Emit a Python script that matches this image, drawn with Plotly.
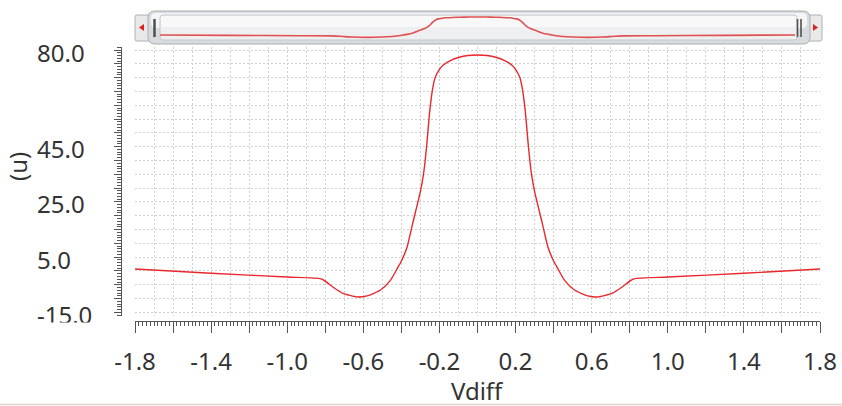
import plotly.graph_objects as go
import numpy as np

# ---------------- data ----------------
vdiff = [-1.8, -1.4, -1.0, -0.82, -0.76, -0.71, -0.63, -0.58, -0.51, -0.46, -0.42, -0.40,
         -0.37, -0.34, -0.30, -0.285, -0.275, -0.265, -0.255, -0.245, -0.235, -0.223, -0.20,
         -0.18, -0.14, -0.10, -0.05, 0.0,
         0.05, 0.10, 0.14, 0.18, 0.20, 0.223, 0.235, 0.245, 0.255, 0.265, 0.275, 0.285,
         0.30, 0.34, 0.37, 0.40, 0.42, 0.46, 0.51, 0.58, 0.63, 0.71, 0.76, 0.82, 1.0, 1.4, 1.8]
current_u = [0.7, -0.8, -2.2, -2.9, -5.8, -8.0, -9.4, -9.0, -6.9, -3.6, 1.1, 3.6,
             8.7, 17.4, 28.8, 34.5, 40.0, 47.0, 55.0, 61.5, 66.3, 70.0, 73.0,
             74.6, 76.3, 77.3, 78.0, 78.2,
             78.0, 77.3, 76.3, 74.6, 73.0, 70.0, 66.3, 61.5, 55.0, 47.0, 40.0, 34.5,
             28.8, 17.4, 8.7, 3.6, 1.1, -3.6, -6.9, -9.0, -9.4, -8.0, -5.8, -2.9, -2.2, -0.8, 0.7]

x_tick_vals = [-1.8, -1.4, -1.0, -0.6, -0.2, 0.2, 0.6, 1.0, 1.4, 1.8]
x_tick_text = ["-1.8", "-1.4", "-1.0", "-0.6", "-0.2", "0.2", "0.6", "1.0", "1.4", "1.8"]
y_tick_vals = [80, 45, 25, 5, -15]
y_tick_text = ["80.0", "45.0", "25.0", "5.0", "-15.0"]
x_title = "Vdiff"
y_title = "(u)"

# ---------------- geometry helpers (pixels -> paper) ----------------
W, H = 842, 406
L, R, T, B = 121, 22, 0, 85
PW, PH = W - L - R, H - T - B


def px(x):
    return (x - L) / PW


def py(y):
    return (PH - y) / PH


def rrect(x0, y0, x1, y1, r):
    # rounded rectangle path in paper coords, given pixel box
    pts = []
    pts.append(f"M {px(x0 + r)},{py(y0)}")
    pts.append(f"L {px(x1 - r)},{py(y0)}")
    pts.append(f"Q {px(x1)},{py(y0)} {px(x1)},{py(y0 + r)}")
    pts.append(f"L {px(x1)},{py(y1 - r)}")
    pts.append(f"Q {px(x1)},{py(y1)} {px(x1 - r)},{py(y1)}")
    pts.append(f"L {px(x0 + r)},{py(y1)}")
    pts.append(f"Q {px(x0)},{py(y1)} {px(x0)},{py(y1 - r)}")
    pts.append(f"L {px(x0)},{py(y0 + r)}")
    pts.append(f"Q {px(x0)},{py(y0)} {px(x0 + r)},{py(y0)}")
    pts.append("Z")
    return " ".join(pts)


FONT = "Noto Sans"
TXT = "#333333"
RED = "#e8282c"
GRID = "#cfcfcf"
AX = "#555555"

fig = go.Figure()

# main curve
fig.add_trace(go.Scatter(x=vdiff, y=current_u, mode="lines",
                         line=dict(color=RED, width=1.4, shape="spline", smoothing=0.6),
                         hoverinfo="skip", showlegend=False, xaxis="x", yaxis="y"))
# overview (scrollbar) curve
fig.add_trace(go.Scatter(x=vdiff, y=current_u, mode="lines",
                         line=dict(color="#e05050", width=1.6, shape="spline", smoothing=0.6),
                         hoverinfo="skip", showlegend=False, xaxis="x2", yaxis="y2"))
# invisible traces to materialise ruler axes
fig.add_trace(go.Scatter(x=vdiff, y=current_u, mode="lines", line=dict(width=0),
                         opacity=0, hoverinfo="skip", showlegend=False, xaxis="x3", yaxis="y"))
fig.add_trace(go.Scatter(x=vdiff, y=current_u, mode="lines", line=dict(width=0),
                         opacity=0, hoverinfo="skip", showlegend=False, xaxis="x", yaxis="y3"))

xr = [-1.8, 1.8]
yr = [-16.3, 81.1]
main_xdom = [px(135), 1.0]
main_ydom = [py(316), py(47)]

x_major = [round(v, 2) for v in np.arange(-1.8, 1.8001, 0.2)]
x_major_text = [x_tick_text[x_tick_vals.index(v)] if v in x_tick_vals else "" for v in x_major]

fig.update_layout(
    width=W, height=H,
    margin=dict(l=L, r=R, t=T, b=B),
    paper_bgcolor="white", plot_bgcolor="white",
    font=dict(family=FONT, color=TXT, size=24),
    xaxis=dict(domain=main_xdom, range=xr, anchor="y", showline=False, zeroline=False,
               showgrid=True, gridcolor=GRID, griddash="2px,2px", gridwidth=1,
               dtick=0.1, tick0=-1.8, ticks="", showticklabels=False),
    yaxis=dict(domain=main_ydom, range=yr, anchor="x", showline=False, zeroline=False,
               showgrid=True, gridcolor=GRID, griddash="2px,2px", gridwidth=1,
               dtick=5, tick0=0, ticks="", showticklabels=False),
    xaxis2=dict(domain=[px(160), px(795)], range=xr, anchor="y2", visible=False),
    yaxis2=dict(domain=[py(38.9), py(16.1)], range=[-16, 82], anchor="x2", visible=False),
    xaxis3=dict(overlaying="x", anchor="free", position=0, range=xr,
                showline=True, linecolor=AX, linewidth=1, showgrid=False, zeroline=False,
                tickmode="array", tickvals=x_major, ticktext=x_major_text,
                ticks="outside", ticklen=11, tickcolor=AX, tickwidth=1,
                ticklabelstandoff=8,
                tickfont=dict(size=24, color=TXT, family=FONT),
                minor=dict(dtick=0.02, tick0=-1.8, ticks="outside", ticklen=4,
                           tickcolor=AX, tickwidth=1, showgrid=False)),
    yaxis3=dict(overlaying="y", anchor="free", position=0, range=yr, side="left",
                showline=True, linecolor=AX, linewidth=1, showgrid=False, zeroline=False,
                dtick=5, tick0=0, ticks="outside", ticklen=7, tickcolor=AX, tickwidth=1,
                showticklabels=False,
                minor=dict(dtick=1, ticks="outside", ticklen=4, tickcolor=AX,
                           tickwidth=1, showgrid=False)),
)

# y tick labels (left aligned, like the source viewer)
for v, t in zip(y_tick_vals, y_tick_text):
    fig.add_annotation(x=px(35), xref="paper", y=v, yref="y", text=t, showarrow=False,
                       xanchor="left", yanchor="middle", yshift=-2,
                       font=dict(size=24, color=TXT, family=FONT))
# clip the bottom of the lowest label
fig.add_annotation(x=px(30), xref="paper", y=py(322), yref="paper", text=" ",
                   showarrow=False, xanchor="left", yanchor="top", width=80, height=16,
                   bgcolor="white", borderpad=0)

# axis titles
fig.add_annotation(x=px(477.5), xref="paper", y=py(390), yref="paper", text=x_title,
                   showarrow=False, xanchor="center", yanchor="middle",
                   font=dict(size=24, color=TXT, family=FONT))
fig.add_annotation(x=px(18), xref="paper", y=py(167), yref="paper", text=y_title,
                   textangle=-90, showarrow=False, xanchor="center", yanchor="middle",
                   font=dict(size=24, color=TXT, family=FONT))

# ---------------- scrollbar widget ----------------
shapes = []
# arrow button strip
shapes.append(dict(type="path", path=rrect(135, 15, 822, 41, 2), xref="paper", yref="paper",
                   fillcolor="#e9e9e9", line=dict(color="#b0b0b0", width=1), layer="below"))
# thumb
shapes.append(dict(type="path", path=rrect(148, 11, 810, 44, 7), xref="paper", yref="paper",
                   fillcolor="#d9dcdf", line=dict(color="#a9aeb4", width=1), layer="below"))
shapes.append(dict(type="path", path=rrect(151, 13, 807, 28, 5), xref="paper", yref="paper",
                   fillcolor="#f4f5f6", line=dict(width=0), layer="below"))
shapes.append(dict(type="path", path=rrect(160, 15, 797, 40, 3), xref="paper", yref="paper",
                   fillcolor="#eeeff0", line=dict(color="#c4c7cb", width=1), layer="below"))
shapes.append(dict(type="rect", x0=px(161), x1=px(796), y0=py(16), y1=py(27), xref="paper",
                   yref="paper", fillcolor="#f8f8f8", line=dict(width=0), layer="below"))
# grips
shapes.append(dict(type="line", x0=px(154.5), x1=px(154.5), y0=py(19), y1=py(37), xref="paper",
                   yref="paper", line=dict(color="#505050", width=2.5)))
for gx in (797.5, 801):
    shapes.append(dict(type="line", x0=px(gx), x1=px(gx), y0=py(19), y1=py(37), xref="paper",
                       yref="paper", line=dict(color="#505050", width=1.6)))
# arrows
shapes.append(dict(type="path",
                   path=f"M {px(144)},{py(24)} L {px(139)},{py(27.5)} L {px(144)},{py(31)} Z",
                   xref="paper", yref="paper", fillcolor="#e02020", line=dict(width=0)))
shapes.append(dict(type="path",
                   path=f"M {px(813)},{py(24)} L {px(818)},{py(27.5)} L {px(813)},{py(31)} Z",
                   xref="paper", yref="paper", fillcolor="#e02020", line=dict(width=0)))
# bottom separator
shapes.append(dict(type="line", x0=px(0), x1=px(W), y0=py(404.5), y1=py(404.5), xref="paper",
                   yref="paper", line=dict(color="#e3cfcf", width=1.5)))

fig.update_layout(shapes=shapes)

fig.write_html("out.html")
